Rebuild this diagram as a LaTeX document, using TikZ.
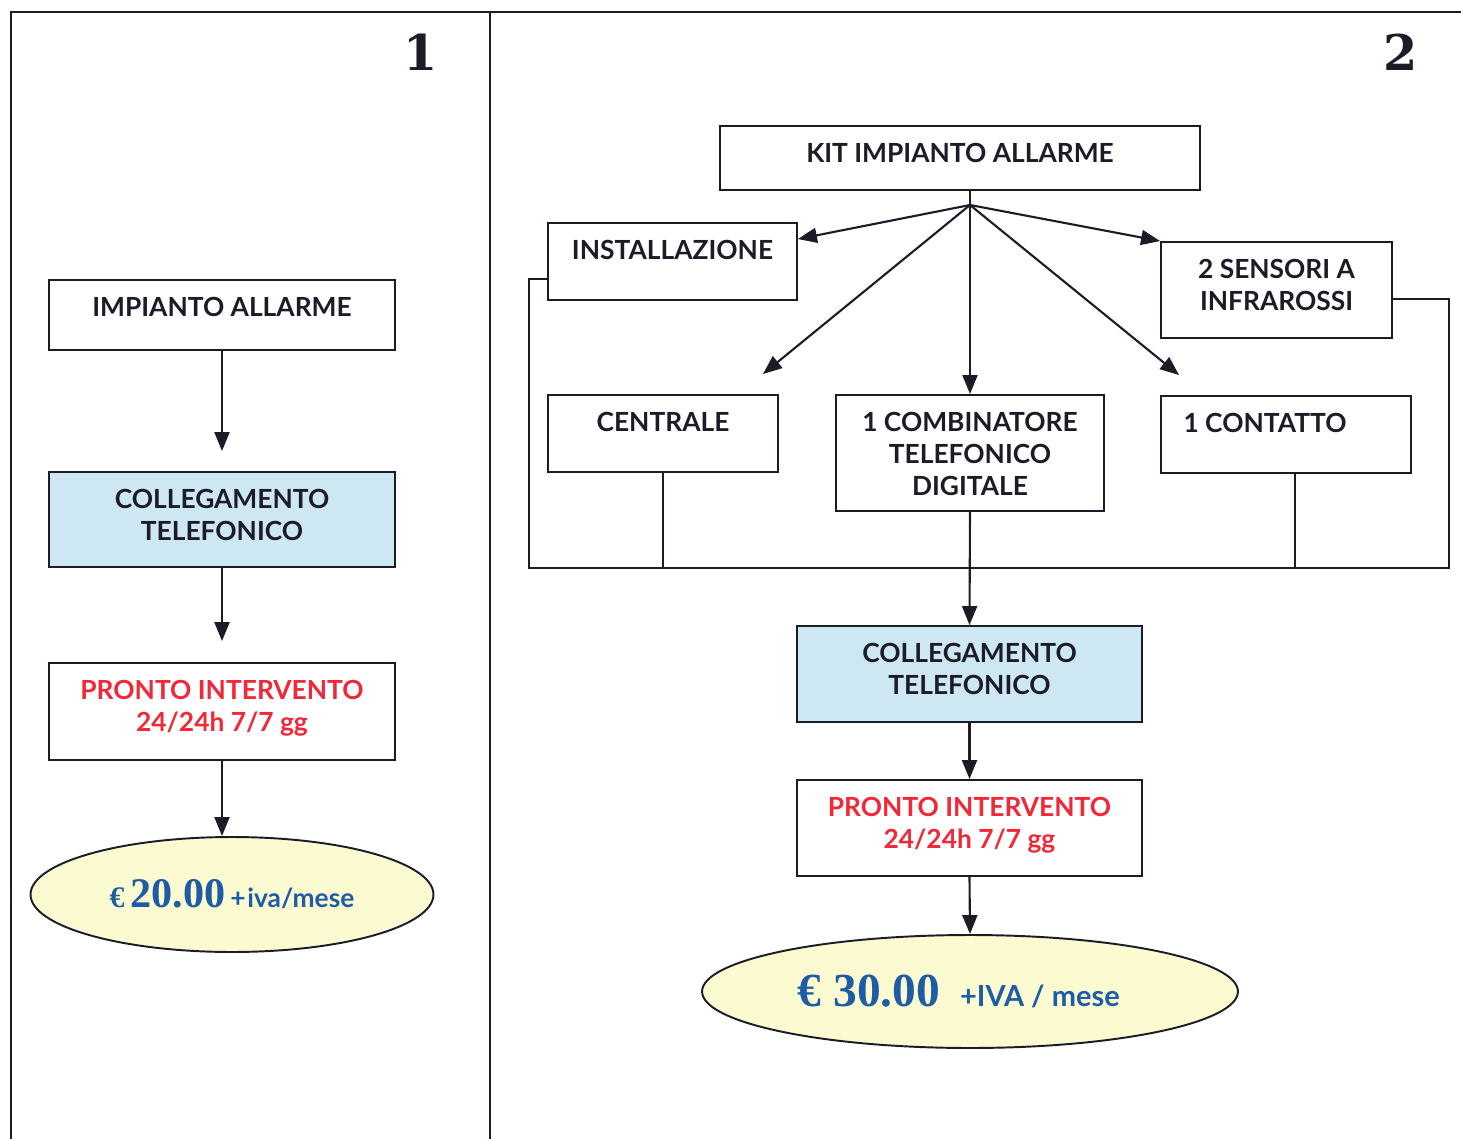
\documentclass[tikz,border=0pt]{standalone}
\usepackage{fontspec}
\setmainfont{Lato}
\newfontfamily\numfont{Liberation Serif}
\newfontfamily\headfont{DejaVu Serif}
\usetikzlibrary{arrows.meta,shapes.geometric,calc}
\definecolor{ink}{RGB}{28,28,40}
\definecolor{boxblue}{RGB}{205,232,243}
\definecolor{ellfill}{RGB}{252,250,208}
\definecolor{alertred}{RGB}{240,40,55}
\definecolor{priceblue}{RGB}{30,92,165}
\begin{document}
\begin{tikzpicture}[x=0.02cm,y=-0.02cm,
  box/.style={draw=ink, line width=1.1pt, rectangle, inner sep=0pt},
  btxt/.style={font=\fontsize{15}{18.2}\selectfont\bfseries, text=ink, align=center, inner sep=0pt, anchor=north, yshift=-0.35cm},
  rtxt/.style={btxt, text=alertred},
  conn/.style={draw=ink, line width=1.2pt},
  arr/.style={conn, -{Triangle[length=0.38cm,width=0.3cm]}},
  frameline/.style={draw=ink, line width=1.3pt},
  ell/.style={ellipse, draw=ink, line width=1.1pt, fill=ellfill, inner sep=0pt, text=priceblue},
  bignum/.style={font=\headfont\bfseries\fontsize{28}{28}\selectfont, text=ink, inner sep=0pt}]
\useasboundingbox (0,0) rectangle (1461,1139);

% frame
\draw[frameline] (11,1139) -- (11,12) -- (1461,12);
\draw[frameline] (490,12) -- (490,1139);
\node[bignum] (n1) at (421,52) {1};
\node[bignum] (n2) at (1401,52) {2};

% left panel
\node[box, minimum width=6.92cm, minimum height=1.4cm,
  label={[btxt]north:IMPIANTO ALLARME}] (imp) at (222,315) {};
\node[box, fill=boxblue, minimum width=6.92cm, minimum height=1.9cm,
  label={[btxt]north:{COLLEGAMENTO\\TELEFONICO}}] (colL) at (222,519.5) {};
\node[box, minimum width=6.92cm, minimum height=1.94cm,
  label={[rtxt]north:{PRONTO INTERVENTO\\24/24h 7/7 gg}}] (proL) at (222,711.5) {};
\node[ell, minimum width=8.06cm, minimum height=2.3cm] (ellL) at (232,894.5)
  {\numfont\bfseries{\fontsize{17}{17}\selectfont €}\hspace{0.12cm}{\fontsize{24}{24}\selectfont 20.00}\hspace{0.1cm}{\rmfamily\bfseries\fontsize{15}{15}\selectfont +\kern1pt iva/mese}};

\draw[arr, shorten >=0.4cm] (imp.south) -- (colL.north);
\draw[arr, shorten >=0.42cm] (colL.south) -- (proL.north);
\draw[arr] (proL.south) -- (proL.south |- ellL.north);

% right panel
\node[box, minimum width=9.6cm, minimum height=1.28cm,
  label={[btxt]north:KIT IMPIANTO ALLARME}] (kit) at (960,158) {};
\coordinate (hub) at (970,205);
\node[box, minimum width=4.98cm, minimum height=1.54cm,
  label={[btxt]north:INSTALLAZIONE}] (inst) at (672.5,261.5) {};
\node[box, minimum width=4.62cm, minimum height=1.92cm,
  label={[btxt]north:{2 SENSORI A\\INFRAROSSI}}] (sens) at (1276.5,290) {};
\node[box, minimum width=4.6cm, minimum height=1.54cm,
  label={[btxt]north:CENTRALE}] (cen) at (663,433.5) {};
\node[box, minimum width=5.36cm, minimum height=2.32cm,
  label={[btxt]north:{1 COMBINATORE\\TELEFONICO\\DIGITALE}}] (comb) at (970,453) {};
\node[box, minimum width=5.0cm, minimum height=1.54cm,
  label={[btxt, xshift=-0.42cm]north:1 CONTATTO}] (con) at (1286,434.5) {};
\node[box, fill=boxblue, minimum width=6.9cm, minimum height=1.92cm,
  label={[btxt]north:{COLLEGAMENTO\\TELEFONICO}}] (colR) at (969.5,674) {};
\node[box, minimum width=6.9cm, minimum height=1.92cm,
  label={[rtxt]north:{PRONTO INTERVENTO\\24/24h 7/7 gg}}] (proR) at (969.5,828) {};
\node[ell, minimum width=10.72cm, minimum height=2.26cm] (ellR) at (970,991.5)
  {\numfont\bfseries\fontsize{27}{27}\selectfont € 30.00\hspace{0.4cm}{\rmfamily\bfseries\fontsize{16.5}{16.5}\selectfont +IVA / mese}\hspace*{0.45cm}};

% arrows from kit
\coordinate (instTip) at ($(inst.north east)+(0,17)$);
\coordinate (cenTip) at ($(cen.north east)+(-16,-20)$);
\coordinate (conTip) at ($(con.north west)+(19,-20)$);
\draw[conn] (kit.south -| hub) -- (hub);
\draw[arr] (hub) -- (instTip);
\draw[arr] (hub) -- (sens.north west);
\draw[arr] (hub) -- (cenTip);
\draw[arr] (hub) -- (comb.north);
\draw[arr] (hub) -- (conTip);

% bus
\coordinate (busL) at (529,568);
\coordinate (busR) at (1449,568);
\coordinate (instOut) at ($(inst.north west)+(0,57)$);
\coordinate (sensOut) at ($(sens.north east)+(0,58)$);
\coordinate (conBot) at ($(con.south west)+(135,0)$);
\draw[conn] (instOut) -| (busL) -- (busR) |- (sensOut);
\draw[conn] (cen.south) -- (cen.south |- busL);
\draw[conn] (conBot) -- (conBot |- busL);
\draw[arr] (comb.south) -- (colR.north);
\draw[arr] (colR.south) -- (proR.north);
\draw[arr] (proR.south) -- (ellR.north);
\end{tikzpicture}
\end{document}
